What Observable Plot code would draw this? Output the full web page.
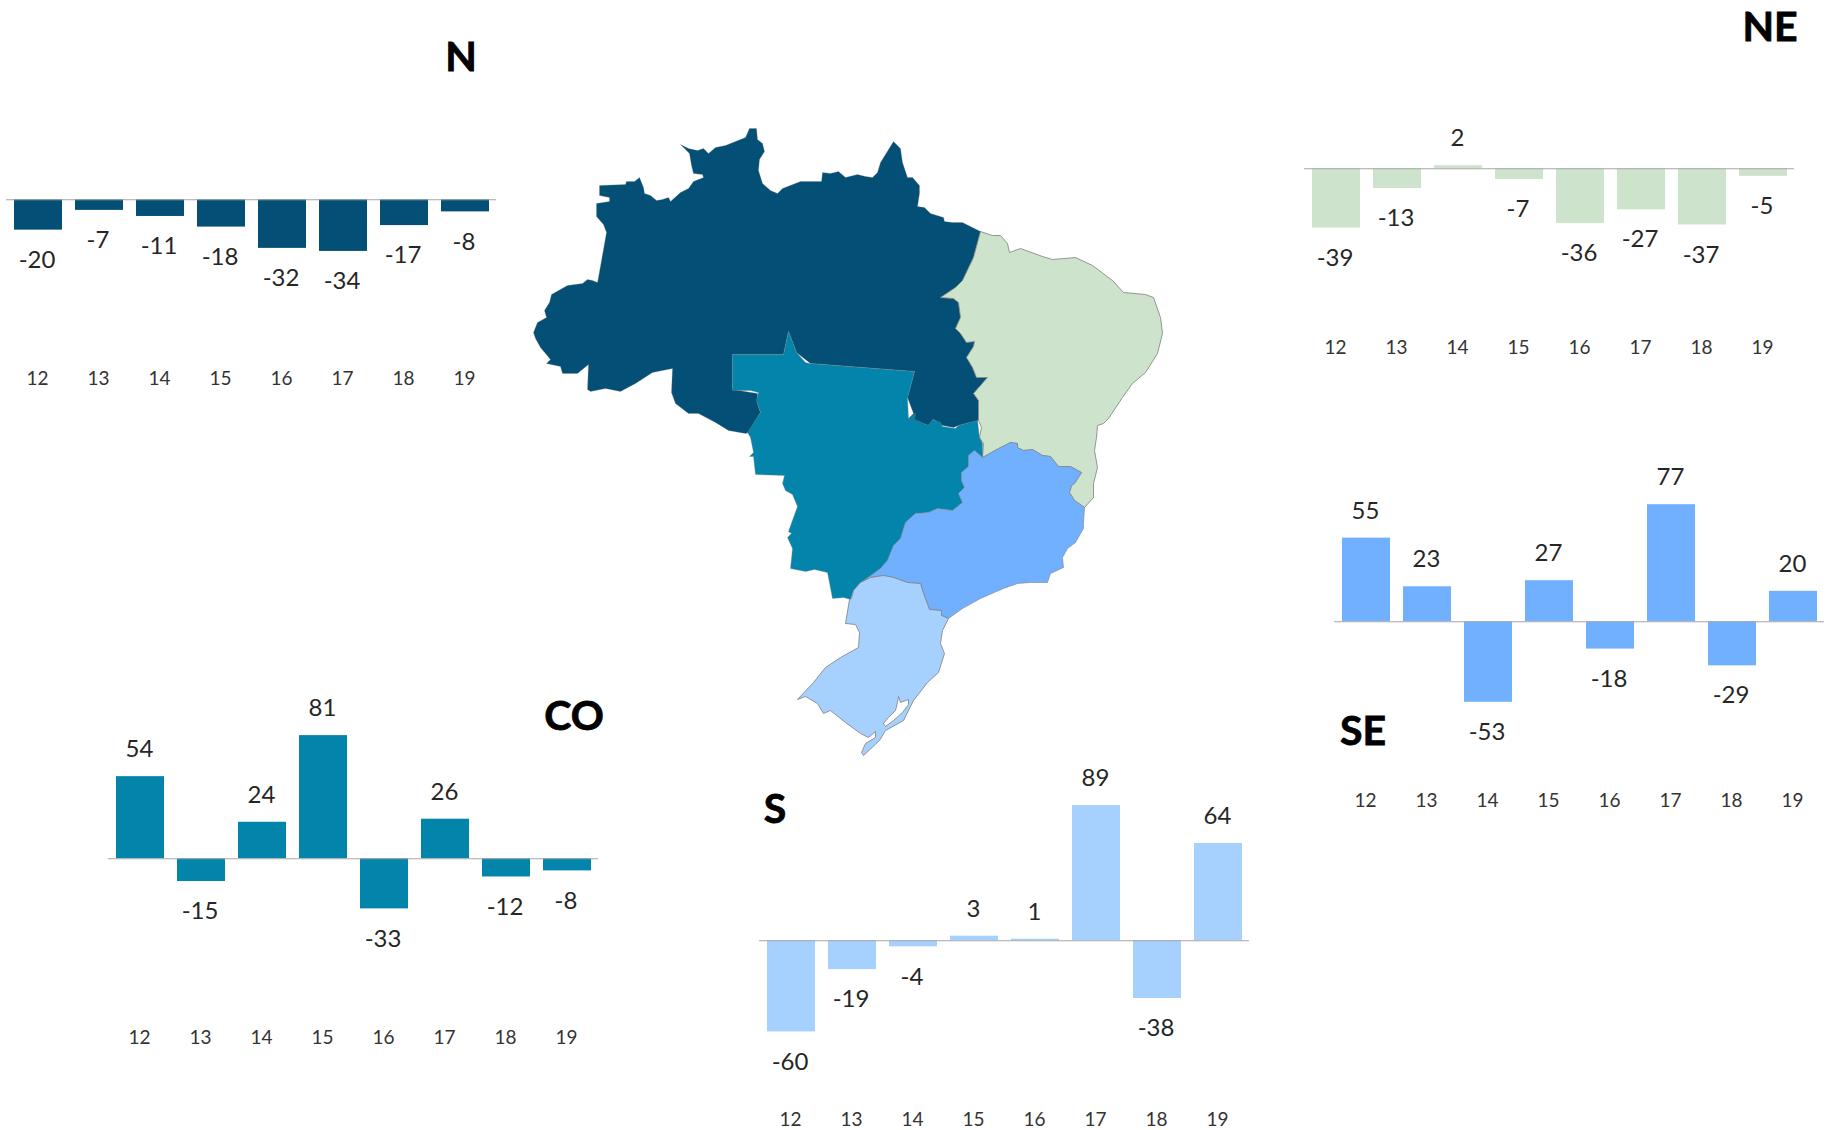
<!DOCTYPE html>
<html><head><meta charset="utf-8">
<script src="https://cdn.jsdelivr.net/npm/d3@7"></script>
<script src="https://cdn.jsdelivr.net/npm/@observablehq/plot@0.6"></script>
<style>
html,body{margin:0;padding:0;background:#fff}
#page{position:relative;width:1828px;height:1130px;overflow:hidden;background:#fff;font-family:Lato,sans-serif}
#page>div{position:absolute}
.rt{font:700 41px Lato,sans-serif;color:#000;transform:translate(-50%,-50%);line-height:1;-webkit-text-stroke:0.8px #000}
svg{overflow:visible}
</style></head><body><div id="page"></div>
<script>
const years=["12","13","14","15","16","17","18","19"];
const valuesN=[-20,-7,-11,-18,-32,-34,-17,-8];
const valuesNE=[-39,-13,2,-7,-36,-27,-37,-5];
const valuesCO=[54,-15,24,81,-33,26,-12,-8];
const valuesS=[-60,-19,-4,3,1,89,-38,64];
const valuesSE=[55,23,-53,27,-18,77,-29,20];
const colorN="#034f75",colorNE="#cde3cb",colorCO="#0384ab",colorSE="#70b0ff",colorS="#a6d1ff";

// Region outlines (map units)
const outlineN=[[533,332],[537,322],[546,317],[544,310],[549,302],[551,294],[567,285],[582,283],[587,279],[592,280],[597,282],[598,277],[606,232],[603,224],[596,216],[596,203],[609,201],[609,197],[599,195],[599,185],[625,184],[626,181],[634,181],[639,177],[643,187],[644,193],[650,195],[656,200],[662,199],[668,197],[670,201],[680,192],[688,188],[693,181],[703,177],[702,174],[693,173],[691,165],[689,153],[680,144],[688,148],[697,150],[703,148],[708,153],[715,147],[725,145],[735,141],[745,137],[749,128],[756,128],[757,139],[762,143],[764,151],[759,159],[758,170],[762,183],[770,190],[777,193],[782,188],[800,181],[821,181],[822,172],[830,173],[838,171],[845,177],[857,174],[865,176],[872,177],[877,172],[880,162],[893,141],[900,148],[902,162],[907,177],[912,177],[919,185],[919,193],[917,206],[924,207],[930,213],[943,217],[944,221],[952,222],[962,222],[980,231],[973,257],[962,280],[955,287],[940,297],[953,298],[958,302],[960,317],[955,328],[960,333],[966,342],[974,341],[973,346],[966,357],[972,367],[976,377],[987,377],[973,393],[978,400],[978,420],[958,425],[953,427],[942,425],[933,419],[928,425],[908,418],[913,413],[907,397],[914,371],[810,363],[796,352],[788,331],[783,354],[732,354],[732,389],[757,393],[757,403],[760,412],[748,432],[745,433],[728,430],[715,422],[698,413],[688,413],[675,403],[671,392],[672,368],[652,372],[635,383],[620,391],[605,388],[590,391],[587,389],[588,364],[577,373],[562,373],[560,366],[546,363],[550,359],[540,347],[535,338]];
const outlineNE=[[980,231],[992,235],[1000,235],[1007,243],[1009,252],[1020,248],[1042,256],[1052,259],[1075,257],[1092,265],[1112,280],[1123,292],[1145,294],[1153,297],[1160,317],[1162,333],[1157,353],[1145,372],[1132,383],[1122,397],[1108,418],[1103,423],[1097,425],[1096,437],[1094,450],[1097,467],[1093,483],[1093,497],[1084,507],[1074,500],[1069,492],[1071,485],[1074,483],[1081,472],[1070,466],[1058,466],[1050,456],[1042,455],[1032,449],[1023,450],[1017,447],[1017,443],[1010,442],[1000,447],[982,457],[983,443],[979,437],[981,427],[978,420],[978,400],[973,393],[987,377],[976,377],[972,367],[966,357],[973,346],[974,341],[966,342],[960,333],[955,328],[960,317],[958,302],[953,298],[940,297],[955,287],[962,280],[973,257]];
const outlineCO=[[732,354],[783,354],[788,331],[796,352],[805,362],[809,363],[914,371],[909,390],[907,398],[908,418],[915,413],[914,419],[928,425],[932,419],[940,422],[942,426],[955,428],[958,425],[977,420],[979,437],[982,443],[982,457],[974,450],[968,455],[968,466],[961,472],[961,480],[964,487],[958,493],[962,502],[952,510],[937,508],[928,512],[915,513],[905,522],[900,538],[893,545],[887,560],[880,568],[869,576],[860,582],[853,590],[850,599],[843,597],[832,598],[827,572],[814,569],[805,571],[790,568],[792,548],[787,537],[791,533],[788,531],[797,506],[792,494],[785,490],[782,483],[784,475],[755,474],[753,456],[749,456],[753,452],[750,437],[747,432],[760,412],[756,400],[758,392],[750,390],[732,390]];
const outlineSE=[[982,457],[1000,447],[1010,442],[1017,443],[1017,447],[1023,450],[1032,449],[1042,455],[1050,456],[1058,466],[1070,466],[1081,472],[1074,483],[1071,485],[1069,492],[1074,500],[1084,507],[1083,523],[1083,528],[1075,542],[1067,548],[1062,557],[1063,567],[1050,573],[1047,582],[1030,582],[1017,583],[1003,588],[980,598],[962,608],[948,618],[941,615],[941,610],[929,609],[923,593],[920,583],[907,582],[893,577],[883,575],[870,577],[860,582],[869,576],[880,568],[887,560],[893,545],[900,538],[905,522],[915,513],[928,512],[937,508],[952,510],[962,502],[958,493],[964,487],[961,480],[961,472],[968,466],[968,455],[974,450]];
const outlineS=[[860,582],[870,577],[883,575],[893,577],[907,582],[920,583],[923,593],[929,609],[941,610],[941,615],[948,618],[942,630],[940,643],[944,653],[938,672],[927,682],[913,700],[903,720],[885,730],[879,740],[863,755],[861,752],[865,743],[875,737],[875,731],[868,737],[860,733],[845,722],[830,710],[823,713],[817,703],[805,696],[797,699],[813,682],[825,667],[840,657],[858,647],[859,632],[855,624],[845,623],[849,599],[851,598],[853,590]];
const outlineLagoon=[[883,723],[888,717],[895,710],[897,702],[898,696],[900,702],[908,699],[908,704],[902,712],[893,720],[885,726]];

const page=document.getElementById("page");
const pxPerUnit=1.52, halfDomain=112, marginTop=20, chartWidth=490;

function regionChart(values,color,axisLeft,axisY){
  const table=years.map((year,i)=>({year,value:values[i]}));
  const half=halfDomain*pxPerUnit;
  const plot=Plot.plot({
    width:chartWidth,height:marginTop+2*half+30,
    marginLeft:0,marginRight:0,marginTop,marginBottom:30,
    style:{background:"transparent",fontFamily:"Lato, sans-serif",fontSize:"19px",color:"#333"},
    x:{type:"band",domain:years,paddingInner:0.22,paddingOuter:0.11,axis:null,label:null},
    y:{domain:[-halfDomain,halfDomain],axis:null,label:null},
    marks:[
      Plot.barY(table,{x:"year",y:"value",fill:color}),
      Plot.ruleY([0],{stroke:"#a6a6a6",strokeWidth:1.2}),
      Plot.text(table.filter(d=>d.value>=0),{x:"year",y:"value",text:d=>String(d.value),dx:-1,dy:-27,fontSize:24,fill:"#262626"}),
      Plot.text(table.filter(d=>d.value<0),{x:"year",y:"value",text:d=>String(d.value),dx:-1.5,dy:30,fontSize:24,fill:"#262626"}),
      Plot.axisX({anchor:"bottom",tickSize:0,tickPadding:2,label:null,fontSize:19,fill:"#333",dx:-1})
    ]
  });
  const box=document.createElement("div");
  box.style.left=axisLeft+"px";
  box.style.top=(axisY-marginTop-half)+"px";
  box.appendChild(plot);
  page.appendChild(box);
}
function regionTitle(text,cx,cy){
  const t=document.createElement("div");
  t.className="rt";t.textContent=text;
  t.style.left=cx+"px";t.style.top=cy+"px";
  page.appendChild(t);
}

// Map
const area=(pts,fill,strokeOpacity)=>Plot.line([...pts,pts[0]],{x:d=>d[0],y:d=>d[1],fill,stroke:"#7d7d7d",strokeOpacity,strokeWidth:0.8,strokeLinejoin:"round"});
const map=Plot.plot({
  width:660,height:660,margin:0,
  style:{background:"transparent"},
  x:{domain:[520,1180],axis:null,label:null},
  y:{domain:[120,780],range:[0,660],axis:null,label:null},
  marks:[area(outlineN,colorN,0.35),area(outlineNE,colorNE,1),area(outlineCO,colorCO,0.45),area(outlineSE,colorSE,0.7),area(outlineS,colorS,1),area(outlineLagoon,"#fff",1)]
});
const mapBox=document.createElement("div");
mapBox.style.left="520px";mapBox.style.top="120px";
mapBox.appendChild(map);page.appendChild(mapBox);

regionChart(valuesN,colorN,6,199.5);
regionChart(valuesNE,colorNE,1304,168);
regionChart(valuesSE,colorSE,1334,621.5);
regionChart(valuesCO,colorCO,108,858);
regionChart(valuesS,colorS,759,940);

regionTitle("N",461,55);
regionTitle("NE",1770,25);
regionTitle("CO",574,714);
regionTitle("SE",1363,729);
regionTitle("S",775,807);
</script></body></html>
